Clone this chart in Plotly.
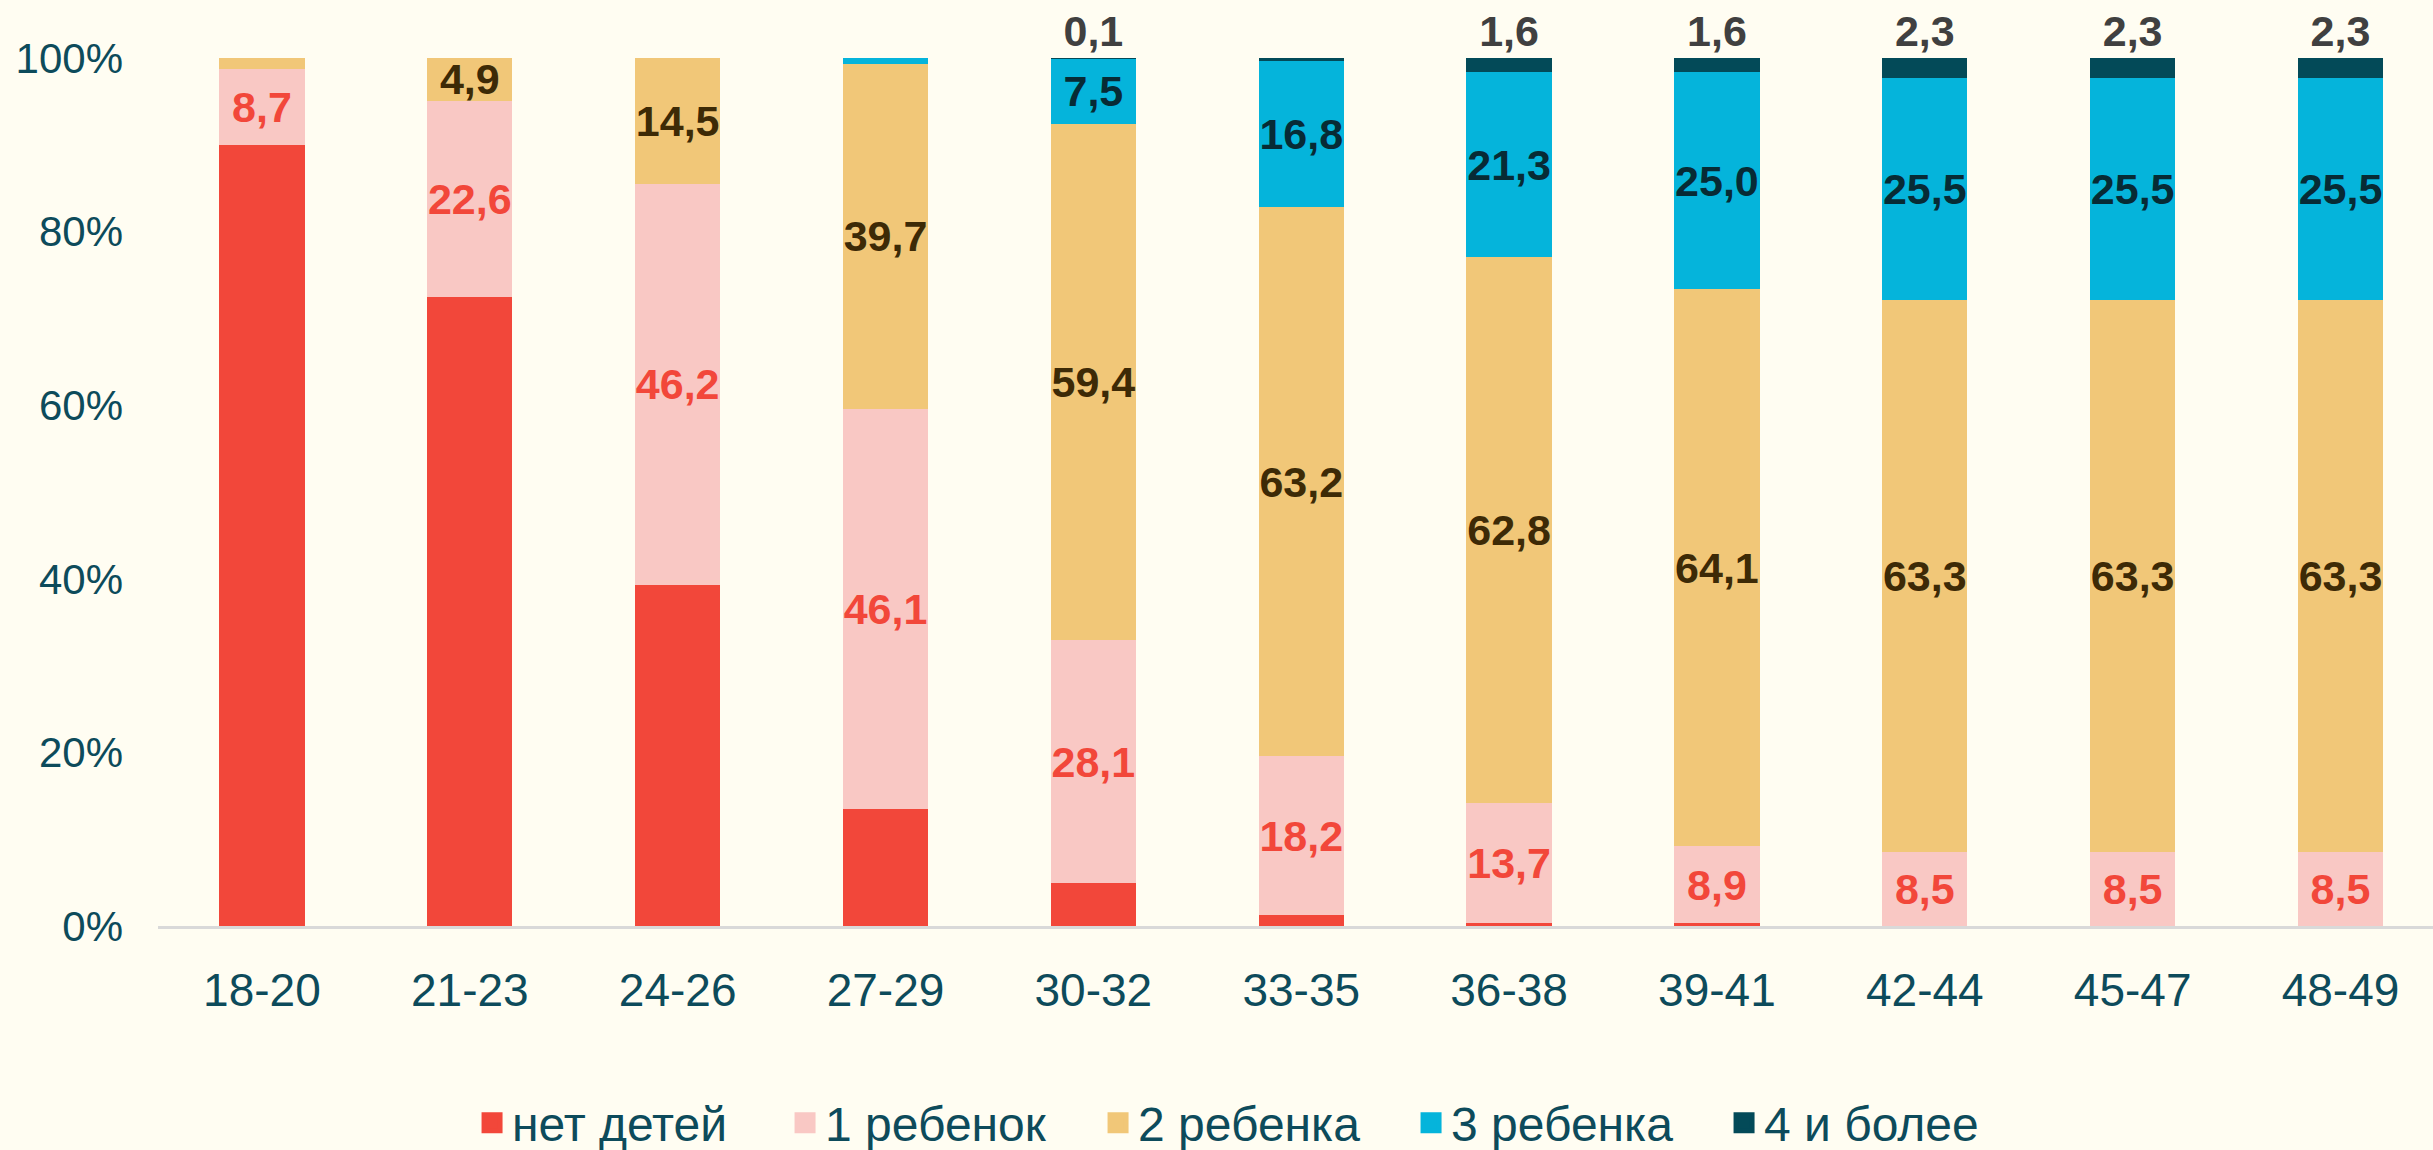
import plotly.graph_objects as go

categories = ["18-20", "21-23", "24-26", "27-29", "30-32", "33-35", "36-38", "39-41", "42-44", "45-47", "48-49"]

no_children = [90.0, 72.5, 39.3, 13.5, 4.9, 1.3, 0.4, 0.3, 0.0, 0.0, 0.0]
one_child = [8.7, 22.6, 46.2, 46.1, 28.1, 18.2, 13.7, 8.9, 8.5, 8.5, 8.5]
two_children = [1.3, 4.9, 14.5, 39.7, 59.4, 63.2, 62.8, 64.1, 63.3, 63.3, 63.3]
three_children = [0.0, 0.0, 0.0, 0.7, 7.5, 16.8, 21.3, 25.0, 25.5, 25.5, 25.5]
four_plus = [0.0, 0.0, 0.0, 0.0, 0.1, 0.3, 1.6, 1.6, 2.3, 2.3, 2.3]

series_names = ["нет детей", "1 ребенок", "2 ребенка", "3 ребенка", "4 и более"]
y_tick_values = [0, 20, 40, 60, 80, 100]
y_tick_labels = ["0%", "20%", "40%", "60%", "80%", "100%"]

# which segments carry a data label
label_min = [1000, 5, 2, 2, 0.05]

FONT = "Liberation Sans, Arial, sans-serif"
colors = ["#F2473A", "#F9C8C4", "#F1C778", "#05B4DB", "#034A58"]
label_colors = ["#F2473A", "#F2473A", "#3D2A06", "#072B35", "#404040"]


def fmt(v):
    return ("%.1f" % v).replace(".", ",")


fig = go.Figure()
all_series = [no_children, one_child, two_children, three_children, four_plus]
for i, (name, vals) in enumerate(zip(series_names, all_series)):
    texts = [fmt(v) if v >= label_min[i] else "" for v in vals]
    fig.add_trace(go.Bar(
        x=categories, y=vals, name=name,
        marker=dict(color=colors[i], line=dict(width=0)),
        text=texts,
        textposition="outside" if i == 4 else "inside",
        insidetextanchor="middle",
        textangle=0,
        constraintext="none",
        cliponaxis=False,
        textfont=dict(family=FONT, size=43, color=label_colors[i], weight="bold"),
        showlegend=False,
    ))

# legend proxies (larger square symbols)
for i, name in enumerate(series_names):
    fig.add_trace(go.Scatter(
        x=[None], y=[None], mode="markers", name=name,
        marker=dict(symbol="square", size=26, color=colors[i],
                    line=dict(width=6, color=colors[i])),
        showlegend=True,
    ))

fig.update_layout(
    width=2433, height=1150,
    barmode="stack", barnorm="percent", bargap=0.59,
    plot_bgcolor="#FFFDF2", paper_bgcolor="#FFFDF2",
    margin=dict(l=158, r=0, t=58, b=224),
    font=dict(family=FONT, color="#0D4B5B"),
    legend=dict(
        orientation="h", x=0.482, xanchor="center",
        yref="container", y=0.0235, yanchor="middle",
        font=dict(family=FONT, size=48, color="#0D4B5B"),
        entrywidth=268, itemsizing="trace", traceorder="normal",
        bgcolor="rgba(0,0,0,0)",
    ),
    xaxis=dict(
        range=[-0.5, 10.445], showgrid=False, zeroline=False,
        showline=True, linecolor="#D9D9D9", linewidth=3,
        ticks="", tickfont=dict(family=FONT, size=46, color="#0D4B5B"),
        ticklabelstandoff=22,
    ),
    yaxis=dict(
        range=[0, 100], showgrid=False, zeroline=False, showline=False,
        tickvals=y_tick_values, ticktext=y_tick_labels, ticks="",
        tickfont=dict(family=FONT, size=42, color="#0D4B5B"),
        ticklabelstandoff=34,
    ),
)

fig.write_html("out.html", config={"displayModeBar": False},
               post_script="document.body.style.margin='0';document.body.style.overflow='hidden';")
